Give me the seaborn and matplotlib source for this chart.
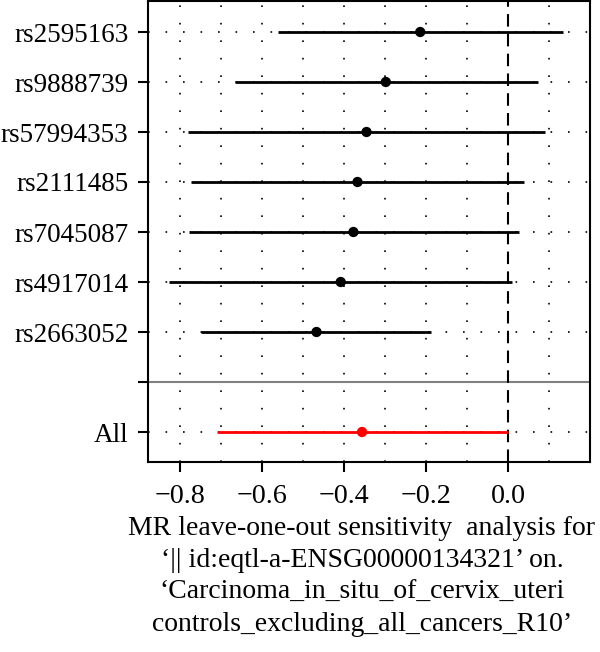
import matplotlib
matplotlib.use("Agg")
import matplotlib.pyplot as plt
import seaborn as sns
import pandas as pd
import numpy as np

snps = ["rs2595163", "rs9888739", "rs57994353", "rs2111485",
        "rs7045087", "rs4917014", "rs2663052", "All"]
beta = [-0.214, -0.298, -0.345, -0.367, -0.377, -0.408, -0.467, -0.356]
lower = [-0.562, -0.667, -0.781, -0.774, -0.779, -0.828, -0.748, -0.709]
upper = [0.134, 0.074, 0.091, 0.039, 0.027, 0.009, -0.188, 0.0]
xticks = [-0.8, -0.6, -0.4, -0.2, 0.0]
xlabel = ("MR leave-one-out sensitivity  analysis for\n"
          "\u2018|| id:eqtl-a-ENSG00000134321\u2019 on.\n"
          "\u2018Carcinoma_in_situ_of_cervix_uteri\n"
          "controls_excluding_all_cancers_R10\u2019")

sns.set_style("white")
plt.rcParams["font.family"] = ["Liberation Serif", "DejaVu Serif"]
plt.rcParams.update({"text.color": "black", "axes.labelcolor": "black",
                     "xtick.color": "black", "ytick.color": "black"})

ypos = [9, 8, 7, 6, 5, 4, 3, 1]
df = pd.DataFrame({"snp": snps, "b": beta, "lo": lower, "up": upper, "y": ypos})
df["grp"] = ["snp"] * 7 + ["all"]

fig = plt.figure(figsize=(6.0, 6.52), dpi=100)
ax = fig.add_axes([148 / 600, 1 - 462 / 652, 442 / 600, 461 / 652])

ax.set_xlim(-0.878, 0.2)
ax.set_ylim(0.4, 9.62)

# dotted grid
for gx in np.arange(-0.8, 0.15, 0.1):
    if abs(gx) < 1e-9:
        continue
    ax.axvline(gx, color="black", lw=1.2, ls=(0, (1, 9.5)), zorder=0)
for gy in ypos:
    ax.axhline(gy, color="black", lw=1.2, ls=(0, (1, 9.5)), zorder=0)

ax.axhline(2, color="#808080", lw=1.5, zorder=1)
ax.axvline(0, color="black", lw=1.5, ls=(0, (6, 3.5)), zorder=1)

colors = {"snp": "black", "all": "red"}
for _, r in df.iterrows():
    ax.hlines(r["y"], r["lo"], r["up"], color=colors[r["grp"]], lw=2, zorder=2)
sns.scatterplot(data=df, x="b", y="y", hue="grp", palette=colors, s=55,
                edgecolor="none", legend=False, ax=ax, zorder=3)

ax.set_yticks([9, 8, 7, 6, 5, 4, 3, 2, 1])
ax.set_yticklabels(snps[:7] + [""] + ["All"])
ax.set_xticks(xticks)
ax.set_xticklabels([f"{t:.1f}".replace("-", "\u2212") for t in xticks])
ax.tick_params(axis="both", direction="out", length=7, width=1.5,
               color="black", labelcolor="black", left=True, bottom=True)
ax.tick_params(axis="y", pad=7, labelsize=19.5)
ax.tick_params(axis="x", pad=9, labelsize=20.2)
for s in ax.spines.values():
    s.set_color("black")
    s.set_linewidth(1.5)
ax.set_ylabel("")
ax.set_xlabel(xlabel, fontsize=20, linespacing=1.36, labelpad=5, x=0.484,
              color="black")

fig.savefig("out.png", dpi=100)
